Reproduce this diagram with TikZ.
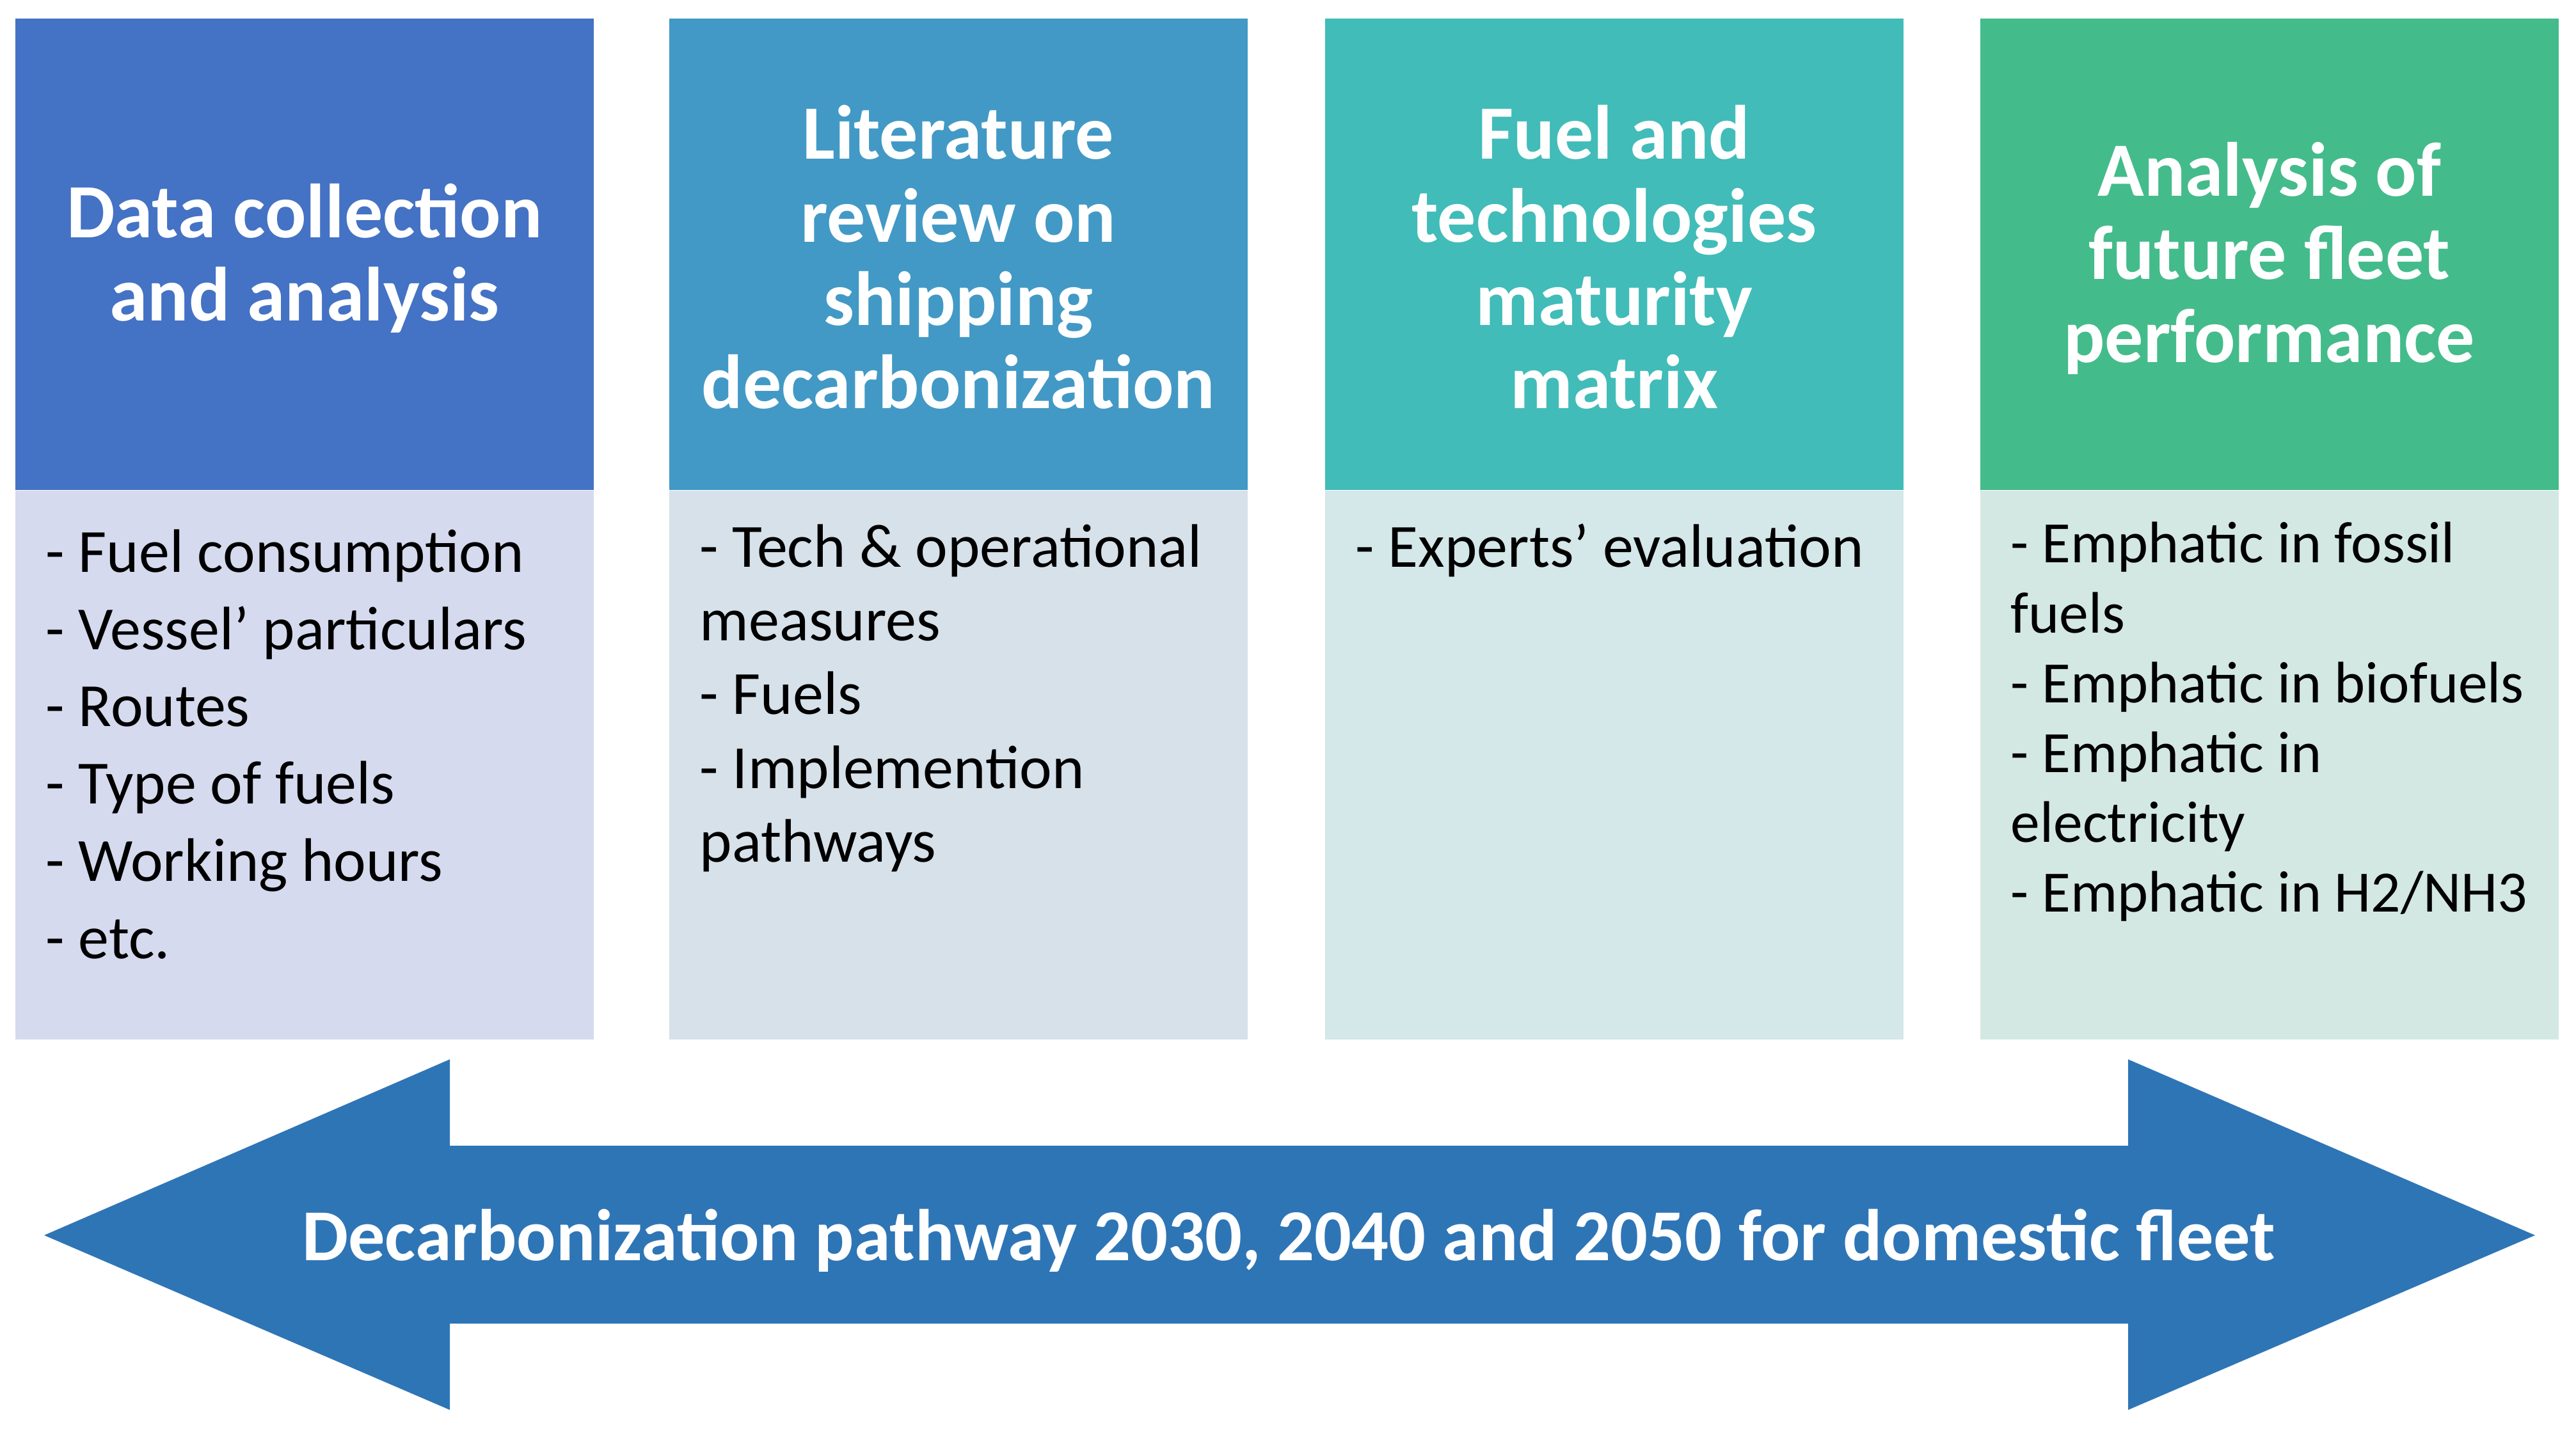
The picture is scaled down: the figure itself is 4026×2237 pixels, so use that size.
\documentclass[tikz,border=0pt]{standalone}
\usepackage{fontspec}
\setmainfont{Carlito}
\definecolor{hA}{HTML}{4472C4}
\definecolor{hB}{HTML}{4299C5}
\definecolor{hC}{HTML}{41BCB8}
\definecolor{hD}{HTML}{44BB8B}
\definecolor{bA}{HTML}{D5DAEE}
\definecolor{bB}{HTML}{D6E1EA}
\definecolor{bC}{HTML}{D4E7E9}
\definecolor{bD}{HTML}{D3E8E2}
\definecolor{arr}{HTML}{2E75B6}
\tikzset{
  headbox/.style={fill=#1, draw=none, minimum width=226pt, minimum height=184.25pt,
    inner sep=0pt, anchor=north west},
  headtext/.style={inner sep=0pt, text=white, align=center,
    font=\fontsize{30}{32.5}\selectfont\bfseries},
  bodybox/.style={fill=#1, draw=none, minimum width=226pt, minimum height=214.5pt,
    inner sep=0pt, anchor=north west},
  bodytext/.style={anchor=north west, inner sep=0pt, align=left, text=black},
  arrowtext/.style={text=white, font=\fontsize{28.6}{30}\selectfont\bfseries, inner sep=0pt}
}
\begin{document}
\begin{tikzpicture}[x=0.25pt,y=-0.25pt]
\useasboundingbox (0,0) rectangle (4026,2237);
\fill[white] (0,0) rectangle (4026,2237);
% headers
\node[headbox=hA] (h1) at (23,28) {};
\node[headbox=hB] (h2) at (1045,28) {};
\node[headbox=hC] (h3) at (2070,28) {};
\node[headbox=hD] (h4) at (3094,28) {};
\node[headtext] (ht1) at ([yshift=-1.6pt]h1.center) {Data collection\\and analysis};
\node[headtext] (ht2) at ([yshift=-1.2pt]h2.center) {Literature\\review on\\shipping\\decarbonization};
\node[headtext] (ht3) at ([yshift=-1.2pt]h3.center) {Fuel and\\technologies\\maturity\\matrix};
\node[headtext] (ht4) at ([yshift=-1.6pt]h4.center) {Analysis of\\future fleet\\performance};
% bodies
\node[bodybox=bA] (b1) at (h1.south west) {};
\node[bodybox=bB] (b2) at (h2.south west) {};
\node[bodybox=bC] (b3) at (h3.south west) {};
\node[bodybox=bD] (b4) at (h4.south west) {};
% body texts
\node[bodytext, font=\fontsize{24}{30.2}\selectfont] (t1) at ([xshift=12pt,yshift=-10.6pt]b1.north west)
  {\strut- Fuel consumption\\- Vessel’ particulars\\- Routes\\- Type of fuels\\- Working hours\\- etc.};
\node[bodytext, font=\fontsize{24}{28.8}\selectfont] (t2) at ([xshift=12pt,yshift=-9.6pt]b2.north west)
  {\strut- Tech \& operational\\measures\\- Fuels\\- Implemention\\pathways};
\node[bodytext, font=\fontsize{24}{28.8}\selectfont] (t3) at ([xshift=12pt,yshift=-9.6pt]b3.north west)
  {\strut- Experts’ evaluation};
\node[bodytext, font=\fontsize{22.9}{27.3}\selectfont] (t4) at ([xshift=12pt,yshift=-9pt]b4.north west)
  {\strut- Emphatic in fossil\\fuels\\- Emphatic in biofuels\\- Emphatic in\\electricity\\- Emphatic in H2/NH3};
% double arrow
\coordinate (ltip) at (69,1931);
\coordinate (rtip) at (3962,1931);
\fill[arr] (ltip) -- (703,1656) -- (703,1791) -- (3326,1791) -- (3326,1656) -- (rtip)
  -- (3326,2204) -- (3326,2069) -- (703,2069) -- (703,2204) -- cycle;
\node[arrowtext] (at) at (2014,1939) {Decarbonization pathway 2030, 2040 and 2050 for domestic fleet};
\end{tikzpicture}
\end{document}
